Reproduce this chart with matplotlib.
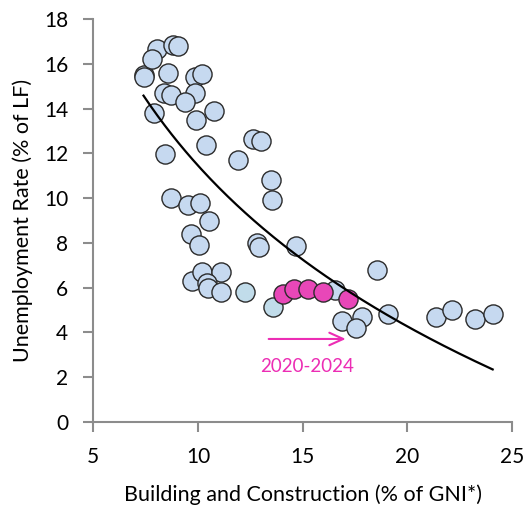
import numpy as np
import matplotlib
matplotlib.use("Agg")
import matplotlib.pyplot as plt

plt.rcParams['font.family'] = ['Lato', 'DejaVu Sans']

# Historical observations: construction share of GNI* vs unemployment rate
hist_x = [7.40, 7.40, 8.03, 7.82, 8.82, 9.06, 8.59, 9.86, 10.21, 8.39,
          8.71, 9.86, 9.38, 7.90, 10.77, 9.89, 10.39, 8.43, 12.63, 13.00,
          11.93, 8.71, 9.54, 10.10, 10.53, 9.66, 10.05, 12.84, 12.94, 13.48,
          13.56, 14.68, 9.73, 10.18, 11.09, 10.42, 10.50, 11.09, 16.54, 18.58,
          16.90, 17.83, 17.54, 19.07, 21.37, 22.16, 23.25, 24.09]
hist_y = [15.50, 15.40, 16.65, 16.22, 16.85, 16.80, 15.61, 15.43, 15.54, 14.71,
          14.61, 14.69, 14.31, 13.82, 13.91, 13.49, 12.37, 11.97, 12.63, 12.55,
          11.70, 9.99, 9.69, 9.79, 8.99, 8.39, 7.90, 8.00, 7.80, 10.81,
          9.91, 7.86, 6.31, 6.71, 6.71, 6.22, 6.00, 5.81, 5.89, 6.78,
          4.50, 4.70, 4.18, 4.80, 4.70, 5.00, 4.58, 4.80]

# Two most recent pre-2020 years
pre_x = [12.25, 13.60]
pre_y = [5.81, 5.12]

# 2020-2024
recent_x = [14.08, 14.61, 15.25, 15.97, 17.19]
recent_y = [5.71, 5.93, 5.93, 5.79, 5.47]

x_ticks = [5, 10, 15, 20, 25]
y_ticks = [0, 2, 4, 6, 8, 10, 12, 14, 16, 18]

fig = plt.figure(figsize=(5.29, 5.07), dpi=100)
ax = fig.add_axes([0.1764, 0.1683, 0.7909, 0.7936])

blue = '#c6d9f0'
edge = '#2b2b2b'
mag = '#e847b8'
pink = '#ec2db4'
ms = 190

ax.scatter(hist_x, hist_y, s=ms, facecolor=blue, edgecolor=edge, linewidth=1.0, zorder=3)
ax.scatter(pre_x, pre_y, s=ms, facecolor='#c1dcea', edgecolor=edge, linewidth=1.0, zorder=3)
ax.scatter(recent_x, recent_y, s=ms, facecolor=mag, edgecolor=edge, linewidth=1.0, zorder=4)

# Logarithmic trend line fitted to all observations
all_x = np.array(hist_x + pre_x + recent_x)
all_y = np.array(hist_y + pre_y + recent_y)
b, a = np.polyfit(np.log(all_x), all_y, 1)
xs = np.linspace(all_x.min(), all_x.max(), 200)
ax.plot(xs, a + b * np.log(xs), color='black', lw=1.6, zorder=5)

ax.annotate('', xy=(17.2, 3.70), xytext=(13.25, 3.70),
            arrowprops=dict(arrowstyle='->,head_length=1.0,head_width=0.45',
                            color=pink, lw=1.5))
ax.text(15.2, 2.46, '2020-2024', color=pink, fontsize=13.5, ha='center', va='center')

ax.set_xlim(5, 25)
ax.set_ylim(0, 18)
ax.set_xticks(x_ticks)
ax.set_yticks(y_ticks)
for s in ['top', 'right']:
    ax.spines[s].set_visible(False)
for s in ['left', 'bottom']:
    ax.spines[s].set_color('#8c8c8c')
    ax.spines[s].set_linewidth(1.5)
ax.tick_params(direction='out', length=7, width=1.5, color='#8c8c8c',
               labelsize=15, pad=11, labelcolor='black')

ax.set_xlabel('Building and Construction (% of GNI*)', fontsize=15.5, labelpad=13)
ax.set_ylabel('Unemployment Rate (% of LF)', fontsize=15.5, labelpad=8)

fig.savefig('out.png', dpi=100)
